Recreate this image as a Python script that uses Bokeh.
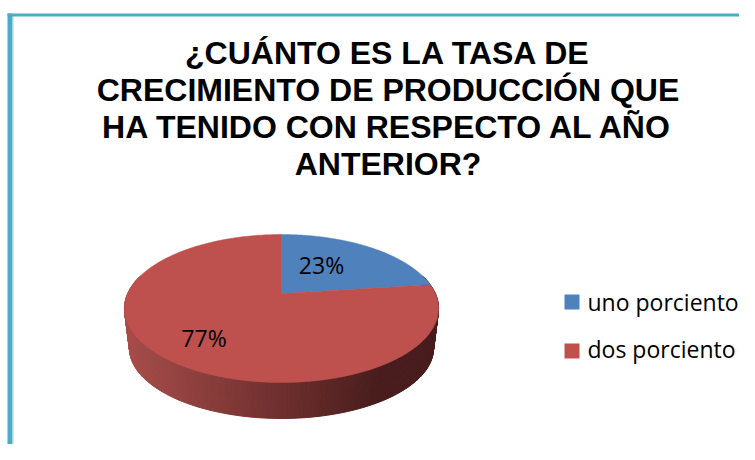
import numpy as np
from bokeh.plotting import figure
from bokeh.models import Range1d
from bokeh.core.properties import value
from bokeh.embed import file_html
from bokeh.resources import INLINE

title_lines = ["¿CUÁNTO ES LA TASA DE", "CRECIMIENTO DE PRODUCCIÓN QUE",
               "HA TENIDO CON RESPECTO AL AÑO", "ANTERIOR?"]
categories = ["uno porciento", "dos porciento"]
values = [23, 77]
colors = ["#4F81BD", "#BE504D"]

# reference-pixel coordinates
p = figure(width=739, height=444, output_backend="svg", toolbar_location=None,
           x_range=Range1d(2, 741), y_range=Range1d(444, 0),
           min_border=0, outline_line_color=None, background_fill_color="white")
p.axis.visible = False
p.grid.visible = False

# frame
p.quad(left=[9], right=[14], top=[13], bottom=[444], fill_color="#4BACC6", line_color=None)
p.quad(left=[14], right=[15], top=[16], bottom=[444], fill_color="#A5D6E3", line_color=None)
p.quad(left=[9], right=[741], top=[13], bottom=[16], fill_color="#4BACC6", line_color=None)

# title
p.text(x=[389.5] * 4, y=[52 + 37 * i for i in range(4)], text=title_lines,
       text_font=value("Liberation Sans"), text_font_style="bold", text_font_size="32px",
       text_align="center", text_baseline="middle", text_color="black")

# perspective pie geometry
CX, CY, K, A, C, SHIFT = 283.0, 308.0, 0.2027, 70.96, 153.8, 15.0

def top_xy(t):
    u, v = np.cos(t), np.sin(t)
    d = 1 + K * v
    return CX + C * u / d, CY - (SHIFT + A * v / d)

def low_xy(t):
    x, y = top_xy(t)
    return CX + 0.968 * (x - CX), CY + 39.7 + 0.95 * (y - CY)

def shade(x):
    f = np.clip((x - 130) / 250, 0, 1)
    a, b = np.array([168, 77, 74]), np.array([72, 28, 28])
    c = a + (b - a) * f
    return "#%02x%02x%02x" % tuple(int(round(i)) for i in c)

# side wall
edges = np.radians(np.linspace(165, 375, 211))
xs, ys, cs = [], [], []
for t0, t1 in zip(edges[:-1], edges[1:]):
    x0, y0 = top_xy(t0); x1, y1 = top_xy(t1)
    x2, y2 = low_xy(t1); x3, y3 = low_xy(t0)
    xs.append([x0, x1, x2, x3]); ys.append([y0, y1, y2, y3])
    cs.append(shade((x2 + x3) / 2))
p.patches(xs, ys, fill_color=cs, line_color=cs, line_width=1)

# top face, clockwise from twelve o'clock
start = np.pi / 2
total = sum(values)
for val, col in zip(values, colors):
    end = start - 2 * np.pi * val / total
    t = np.linspace(start, end, 240)
    x, y = top_xy(t)
    p.patch(np.r_[CX, x], np.r_[CY - SHIFT, y],
            fill_color=col, line_color=col, line_width=0.5)
    start = end

# data labels
p.text(x=[323, 205.5], y=[264, 337], text=[f"{v}%" for v in values],
       text_font=value("Open Sans"), text_font_size="23px", text_align="center",
       text_baseline="middle", text_color="black")

# legend
p.quad(left=[566, 566], right=[581, 581], top=[294, 343], bottom=[309, 358],
       fill_color=colors, line_color=None)
p.text(x=[589, 589], y=[301, 348], text=categories,
       text_font=value("Open Sans"), text_font_size="23px", text_align="left",
       text_baseline="middle", text_color="black")

open("out.html", "w").write(file_html(p, INLINE))
